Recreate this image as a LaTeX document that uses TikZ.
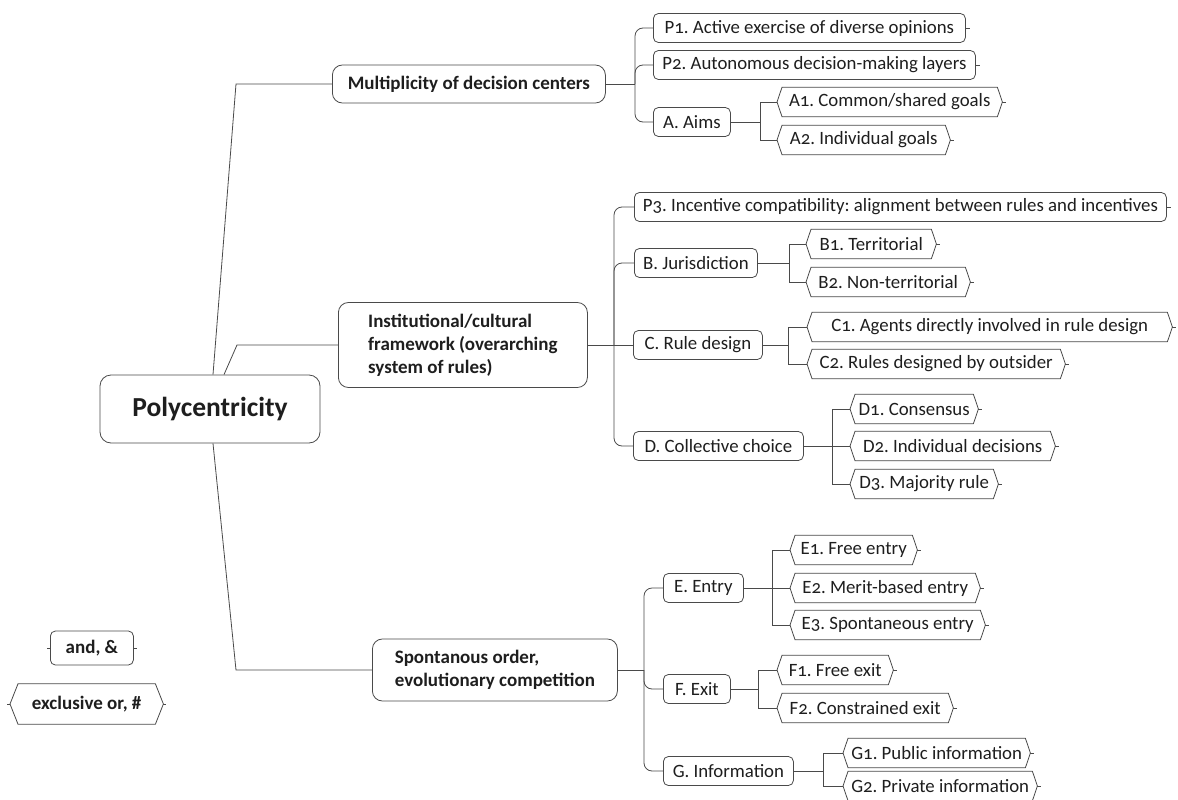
\documentclass[tikz,border=0pt]{standalone}
\usepackage{fontspec}
\setmainfont{Carlito}[Numbers=OldStyle]
\frenchspacing
\definecolor{ln}{HTML}{4A4A4A}
\definecolor{txt}{HTML}{1E1E1E}
\tikzset{
  conn/.style={draw=ln, line width=0.8pt},
  hexline/.style={draw=ln, line width=0.8pt, fill=white},
  leaf/.style={font=\fontsize{18.8}{21}\selectfont, text=txt, inner sep=0pt, minimum height=29pt, anchor=west},
  child/.style={leaf, draw=ln, line width=0.8pt, rounded corners=5pt, fill=white},
  topic/.style={font=\fontsize{19}{23}\selectfont\bfseries, text=txt, draw=ln, line width=0.8pt, rounded corners=10pt, fill=white, inner sep=0pt, align=left, anchor=west},
  rootbox/.style={font=\fontsize{27.5}{30}\selectfont\bfseries, text=txt, draw=ln, line width=0.8pt, rounded corners=11pt, fill=white, inner sep=0pt},
  legendtext/.style={font=\fontsize{19}{21}\selectfont\bfseries},
}
\newcommand\hexleaf[5]{%
  \node[leaf, minimum width=#3-#2] (#1) at (#2,#4) {#5};
  \draw[hexline] (#1.west) -- ([xshift=5pt]#1.north west) -- ([xshift=-5pt]#1.north east) -- (#1.east) -- ([xshift=-5pt]#1.south east) -- ([xshift=5pt]#1.south west) -- cycle;
  \node[leaf, minimum width=#3-#2] at (#2,#4) {#5};
  \draw[conn] (#1.east) -- ++(4,0);
}
\begin{document}
\begin{tikzpicture}[x=1pt, y=-1pt]
\useasboundingbox (0,0) rectangle (1178,800);

% root and main topics
\node[rootbox, minimum width=220pt, minimum height=68pt] (root) at (210,409) {Polycentricity};
\node[topic, minimum width=273pt, minimum height=38pt] (mult) at (332,84) {Multiplicity of decision centers};
\node[topic, minimum width=249pt, minimum height=85pt] (inst) at (338,345) {Institutional/cultural\\framework (overarching\\system of rules)};
\node[topic, minimum width=245pt, minimum height=62pt] (spon) at (372,670) {Spontanous order,\\evolutionary competition};

\coordinate (rt1) at (236,84);
\coordinate (rt2) at (237,345);
\coordinate (rt3) at (236,670);
\draw[conn] ([xshift=3pt]root.north) -- (rt1) -- (mult.west);
\draw[conn] ([xshift=14pt]root.north) -- (rt2) -- (inst.west);
\draw[conn] ([xshift=3pt]root.south) -- (rt3) -- (spon.west);

% ---------- Multiplicity group
\node[child, minimum width=312pt] (p1) at (653,28) {P1. Active exercise of diverse opinions};
\node[child, minimum width=322pt] (p2) at (653,65) {P2. Autonomous decision-making layers};
\node[child, minimum width=77pt] (aims) at (653,122) {A. Aims};
\draw[conn] (p1.east) -- ++(4,0);
\draw[conn] (p2.east) -- ++(4,0);
\coordinate (mb) at (635,84);
\draw[conn] (mult.east) -- (mb);
\foreach \c in {p1,p2,aims} \draw[conn, rounded corners=8pt] (mb) |- (\c.west);
\coordinate (aimsj) at (760,122);
\draw[conn] (aims.east) -- (aimsj);
\hexleaf{a1}{777}{1002}{102}{A1. Common/shared goals}
\hexleaf{a2}{777}{950}{140}{A2. Individual goals}
\foreach \c in {a1,a2} \draw[conn] (aimsj) |- (\c.west);

% ---------- Institutional group
\node[child, minimum width=532pt] (p3) at (634,207) {P3. Incentive compatibility: alignment between rules and incentives};
\draw[conn] (p3.east) -- ++(4,0);
\node[child, minimum width=123pt] (jur) at (634,263) {B. Jurisdiction};
\node[child, minimum width=129pt] (rule) at (633,345) {C. Rule design};
\node[child, minimum width=170pt] (coll) at (633,446) {D. Collective choice};
\coordinate (ib) at (614,345);
\draw[conn] (inst.east) -- (ib);
\foreach \c in {p3,jur,coll} \draw[conn, rounded corners=8pt] (ib) |- (\c.west);
\draw[conn] (ib) -- (rule.west);

\coordinate (jurj) at (789,263);
\draw[conn] (jur.east) -- (jurj);
\hexleaf{b1}{806}{936}{244}{B1. Territorial}
\hexleaf{b2}{806}{970}{282}{B2. Non-territorial}
\foreach \c in {b1,b2} \draw[conn] (jurj) |- (\c.west);

\coordinate (rulej) at (788,345);
\draw[conn] (rule.east) -- (rulej);
\hexleaf{c1}{807}{1172}{327}{C1. Agents directly involved in rule design}
\hexleaf{c2}{807}{1065}{364}{C2. Rules designed by outsider}
\foreach \c in {c1,c2} \draw[conn] (rulej) |- (\c.west);

\coordinate (collj) at (832,446);
\draw[conn] (coll.east) -- (collj);
\hexleaf{d1}{850}{978}{409}{D1. Consensus}
\hexleaf{d2}{850}{1055}{446}{D2. Individual decisions}
\hexleaf{d3}{850}{998}{484}{D3. Majority rule}
\foreach \c in {d1,d2,d3} \draw[conn] (collj) |- (\c.west);

% ---------- Spontaneous group
\node[child, minimum width=80pt] (entry) at (663,588) {E. Entry};
\node[child, minimum width=67pt] (exit) at (663,689) {F. Exit};
\node[child, minimum width=130pt] (info) at (663,771) {G. Information};
\coordinate (sb) at (644,670);
\draw[conn] (spon.east) -- (sb);
\foreach \c in {entry,exit,info} \draw[conn, rounded corners=8pt] (sb) |- (\c.west);

\coordinate (entj) at (772,588);
\draw[conn] (entry.east) -- (entj);
\hexleaf{e1}{790}{917}{550}{E1. Free entry}
\hexleaf{e2}{790}{980}{588}{E2. Merit-based entry}
\hexleaf{e3}{790}{985}{625}{E3. Spontaneous entry}
\foreach \c in {e1,e2,e3} \draw[conn] (entj) |- (\c.west);

\coordinate (exitj) at (758,689);
\draw[conn] (exit.east) -- (exitj);
\hexleaf{f1}{777}{893}{670}{F1. Free exit}
\hexleaf{f2}{777}{953}{708}{F2. Constrained exit}
\foreach \c in {f1,f2} \draw[conn] (exitj) |- (\c.west);

\coordinate (infoj) at (823,771);
\draw[conn] (info.east) -- (infoj);
\hexleaf{g1}{843}{1030}{753}{G1. Public information}
\hexleaf{g2}{843}{1037}{786}{G2. Private information}
\foreach \c in {g1,g2} \draw[conn] (infoj) |- (\c.west);

% ---------- Legend
\node[child, legendtext, minimum width=83pt, minimum height=34pt] (andbox) at (50,648) {and, \&};
\draw[conn] (andbox.east) -- ++(3,0);
\draw[conn] (andbox.west) -- ++(-3,0);
\node[leaf, legendtext, minimum width=153pt, minimum height=40pt] (xor) at (10,704) {exclusive or, \#};
\draw[hexline] (xor.west) -- ([xshift=8pt]xor.north west) -- ([xshift=-8pt]xor.north east) -- (xor.east) -- ([xshift=-8pt]xor.south east) -- ([xshift=8pt]xor.south west) -- cycle;
\node[leaf, legendtext, minimum width=153pt, minimum height=40pt] at (10,704) {exclusive or, \#};
\draw[conn] (xor.east) -- ++(3,0);
\draw[conn] (xor.west) -- ++(-3,0);
\end{tikzpicture}
\end{document}
